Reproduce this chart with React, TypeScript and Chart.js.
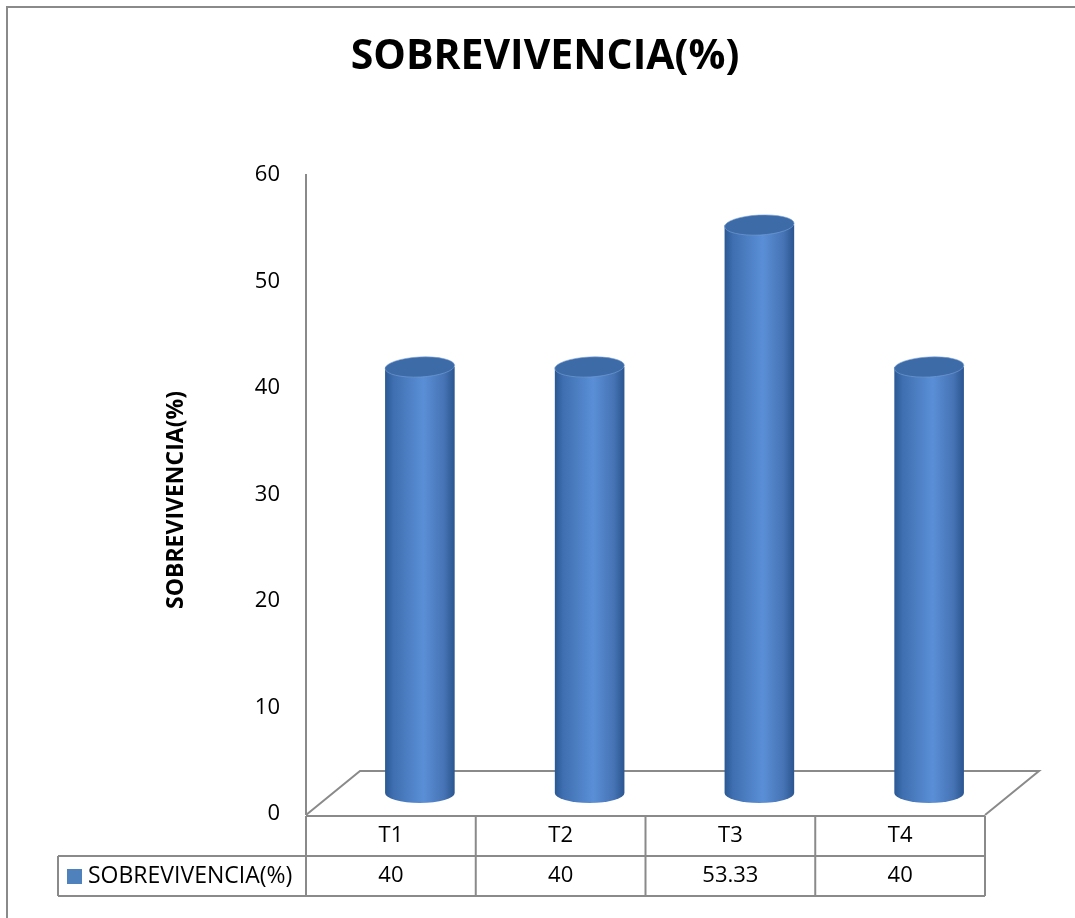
import React, { useEffect, useRef } from "react";
import { Chart, registerables } from "chart.js";
Chart.register(...registerables);

const chartTitle = "SOBREVIVENCIA(%)";
const yAxisTitle = "SOBREVIVENCIA(%)";
const seriesName = "SOBREVIVENCIA(%)";
const categories = ["T1", "T2", "T3", "T4"];
const values = [40, 40, 53.33, 40];
const valueLabels = ["40", "40", "53.33", "40"];
const yMin = 0;
const yMax = 60;
const yStep = 10;

const FONT = '"Open Sans", sans-serif';
const GRAY = "#8a8a8a";
const DEPTH_X = 54;
const DEPTH_Y = -43;

const cylinderPlugin = {
  id: "cylinders3d",
  beforeDatasetsDraw(chart: any) {
    const ctx = chart.ctx;
    const { left, right, bottom } = chart.chartArea;
    ctx.save();
    // outer frame
    ctx.strokeStyle = GRAY;
    ctx.lineWidth = 2;
    ctx.beginPath();
    ctx.moveTo(7, 918);
    ctx.lineTo(7, 7);
    ctx.lineTo(1075, 7);
    ctx.stroke();
    // title
    ctx.fillStyle = "#000";
    ctx.font = `bold 41px ${FONT}`;
    ctx.textAlign = "center";
    ctx.textBaseline = "middle";
    ctx.fillText(chartTitle, 545, 57);
    // floor
    ctx.strokeStyle = GRAY;
    ctx.lineWidth = 2;
    ctx.beginPath();
    ctx.moveTo(left, bottom + 1);
    ctx.lineTo(left + DEPTH_X, bottom + DEPTH_Y);
    ctx.lineTo(right + DEPTH_X, bottom + DEPTH_Y);
    ctx.lineTo(right, bottom + 1);
    ctx.stroke();
    ctx.restore();
  },
  afterDatasetsDraw(chart: any) {
    const ctx = chart.ctx;
    const meta = chart.getDatasetMeta(0);
    const dx = 29;
    const dy = -21;
    ctx.save();
    meta.data.forEach((el: any) => {
      const cx = el.x + dx;
      const topY = el.y + dy;
      const baseY = el.base + dy;
      const rx = el.width / 2;
      const ry = 10;
      const g = ctx.createLinearGradient(cx - rx, 0, cx + rx, 0);
      g.addColorStop(0, "#2b5894");
      g.addColorStop(0.12, "#3f6fb0");
      g.addColorStop(0.55, "#5a8fd7");
      g.addColorStop(0.85, "#4673b4");
      g.addColorStop(1, "#2a5590");
      ctx.fillStyle = g;
      ctx.beginPath();
      ctx.moveTo(cx - rx, topY);
      ctx.lineTo(cx - rx, baseY);
      ctx.ellipse(cx, baseY, rx, ry, 0, Math.PI, 0, true);
      ctx.lineTo(cx + rx, topY);
      ctx.closePath();
      ctx.fill();
      // top cap
      ctx.fillStyle = "#3d6ba8";
      ctx.beginPath();
      ctx.ellipse(cx, topY, rx, ry, -0.05, 0, Math.PI * 2);
      ctx.fill();
      ctx.strokeStyle = "rgba(120,160,215,0.6)";
      ctx.lineWidth = 1;
      ctx.stroke();
    });
    ctx.restore();
  },
  afterDraw(chart: any) {
    const ctx = chart.ctx;
    const { left, right, bottom } = chart.chartArea;
    const xs = chart.scales.x;
    const colW = (right - left) / categories.length;
    const r1 = bottom + 2;
    const r2 = r1 + 40;
    const r3 = r2 + 40;
    const legLeft = 58;
    ctx.save();
    ctx.strokeStyle = GRAY;
    ctx.lineWidth = 2;
    ctx.beginPath();
    ctx.moveTo(left, r1);
    ctx.lineTo(right, r1);
    ctx.moveTo(legLeft, r2);
    ctx.lineTo(right, r2);
    ctx.moveTo(legLeft, r3);
    ctx.lineTo(right, r3);
    ctx.moveTo(legLeft, r2);
    ctx.lineTo(legLeft, r3);
    for (let i = 0; i <= categories.length; i++) {
      const x = left + i * colW;
      ctx.moveTo(x, r1);
      ctx.lineTo(x, r3);
    }
    ctx.stroke();
    ctx.fillStyle = "#000";
    ctx.font = `22px ${FONT}`;
    ctx.textAlign = "center";
    ctx.textBaseline = "middle";
    categories.forEach((c, i) => {
      const x = xs.getPixelForValue(i);
      ctx.fillText(c, x, (r1 + r2) / 2);
      ctx.fillText(valueLabels[i], x, (r2 + r3) / 2);
    });
    // legend cell
    ctx.fillStyle = "#4f81bd";
    ctx.fillRect(67, r2 + 13, 15, 15);
    ctx.fillStyle = "#000";
    ctx.textAlign = "left";
    ctx.font = `23px ${FONT}`;
    ctx.fillText(seriesName, 88, (r2 + r3) / 2);
    // y axis title
    ctx.translate(176, 500);
    ctx.rotate(-Math.PI / 2);
    ctx.font = `bold 23px ${FONT}`;
    ctx.textAlign = "center";
    ctx.fillText(yAxisTitle, 0, 0);
    ctx.restore();
  },
};

export default function App() {
  const ref = useRef<HTMLCanvasElement>(null);
  useEffect(() => {
    if (!ref.current) return;
    const chart = new Chart(ref.current, {
      type: "bar",
      data: {
        labels: categories,
        datasets: [
          {
            label: seriesName,
            data: values,
            backgroundColor: "rgba(0,0,0,0)",
            borderWidth: 0,
            barPercentage: 0.41,
            categoryPercentage: 1,
          },
        ],
      },
      options: {
        responsive: false,
        animation: false,
        events: [],
        layout: { padding: { top: 175, bottom: 104, right: 90, left: 0 } },
        plugins: { legend: { display: false }, title: { display: false }, tooltip: { enabled: false } },
        scales: {
          x: { display: false, type: "category" },
          y: {
            min: yMin,
            max: yMax,
            afterFit: (s: any) => {
              s.width = 306;
            },
            ticks: { stepSize: yStep, color: "#000", font: { size: 22, family: FONT }, padding: 26 },
            grid: { display: false, drawTicks: false },
            border: { display: true, color: GRAY, width: 2 },
          },
        },
      },
      plugins: [cylinderPlugin],
    });
    return () => chart.destroy();
  }, []);
  return (
    <div style={{ position: "absolute", left: 0, top: 0, width: 1075, height: 918, background: "#fff" }}>
      <canvas ref={ref} width={1075} height={918} />
    </div>
  );
}
